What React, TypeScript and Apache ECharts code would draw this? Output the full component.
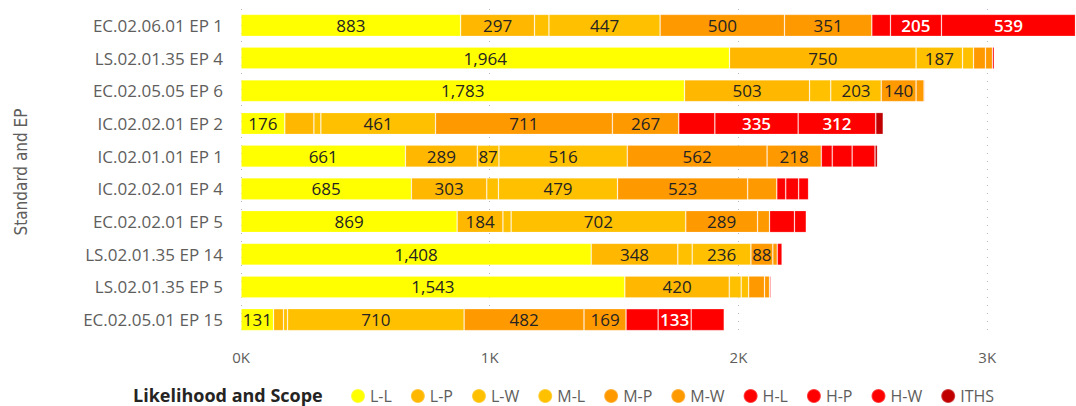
import React, { useEffect, useRef } from "react";
import * as echarts from "echarts";

// Standards / evidence points, top to bottom
const categories = [
  "EC.02.06.01 EP 1",
  "LS.02.01.35 EP 4",
  "EC.02.05.05 EP 6",
  "IC.02.02.01 EP 2",
  "IC.02.01.01 EP 1",
  "IC.02.02.01 EP 4",
  "EC.02.02.01 EP 5",
  "LS.02.01.35 EP 14",
  "LS.02.01.35 EP 5",
  "EC.02.05.01 EP 15",
];

// Likelihood and scope buckets (stack order)
const scopeNames = ["L-L", "L-P", "L-W", "M-L", "M-P", "M-W", "H-L", "H-P", "H-W", "ITHS"];

const valuesLL = [883, 1964, 1783, 176, 661, 685, 869, 1408, 1543, 131];
const valuesLP = [297, 750, 503, 117, 289, 303, 184, 348, 420, 40];
const valuesLW = [58, 187, 85, 28, 87, 47, 33, 58, 48, 16];
const valuesML = [447, 44, 203, 461, 516, 479, 702, 236, 30, 710];
const valuesMP = [500, 48, 140, 711, 562, 523, 289, 88, 64, 482];
const valuesMW = [351, 28, 32, 267, 218, 117, 48, 18, 20, 169];
const valuesHL = [75, 8, 4, 145, 44, 36, 100, 20, 6, 129];
const valuesHP = [205, 0, 0, 335, 80, 52, 48, 0, 0, 133];
const valuesHW = [539, 0, 0, 312, 92, 40, 0, 0, 0, 133];
const valuesITHS = [0, 0, 0, 30, 10, 0, 0, 0, 0, 0];

// Category indices whose segment carries a data label
const labelledLL = [0, 1, 2, 3, 4, 5, 6, 7, 8, 9];
const labelledLP = [0, 1, 2, 4, 5, 6, 7, 8];
const labelledLW = [1, 4];
const labelledML = [0, 2, 3, 4, 5, 6, 7, 9];
const labelledMP = [0, 2, 3, 4, 5, 6, 7, 9];
const labelledMW = [0, 3, 4, 9];
const labelledHL: number[] = [];
const labelledHP = [0, 3, 9];
const labelledHW = [0, 3];
const labelledITHS: number[] = [];

const scopeValues = [valuesLL, valuesLP, valuesLW, valuesML, valuesMP, valuesMW, valuesHL, valuesHP, valuesHW, valuesITHS];
const scopeLabelled = [labelledLL, labelledLP, labelledLW, labelledML, labelledMP, labelledMW, labelledHL, labelledHP, labelledHW, labelledITHS];
const scopeColors = ["#FFFF00", "#FFB700", "#FFC000", "#FFC000", "#FF9900", "#FF9900", "#FF0000", "#FF0000", "#FF0000", "#C00000"];
const lightText = [false, false, false, false, false, false, true, true, true, true];

const FONT = "'Segoe UI', 'Open Sans', sans-serif";

export default function App() {
  const ref = useRef<HTMLDivElement>(null);

  useEffect(() => {
    document.body.style.margin = "0";
    const chart = echarts.init(ref.current!, undefined, { renderer: "svg" });

    const series = scopeNames.map((name, s) => ({
      name,
      type: "bar" as const,
      stack: "total",
      barCategoryGap: "33%",
      itemStyle: {
        color: scopeColors[s],
        borderColor: "rgba(255,255,255,0.25)",
        borderWidth: 0.8,
      },
      label: {
        position: "inside" as const,
        fontFamily: FONT,
        fontSize: 17,
        fontWeight: lightText[s] ? (600 as any) : ("normal" as const),
        color: lightText[s] ? "#FFFFFF" : "#252423",
        formatter: (p: any) => Number(p.value).toLocaleString("en-US"),
      },
      emphasis: { disabled: true },
      data: scopeValues[s].map((v, i) => ({
        value: v,
        label: { show: scopeLabelled[s].includes(i) },
      })),
    }));

    chart.setOption({
      animation: false,
      grid: { left: 241, right: 0, top: 9, height: 327 },
      xAxis: {
        type: "value",
        min: 0,
        max: 3357,
        interval: 1000,
        axisLine: { show: false },
        axisTick: { show: false },
        axisLabel: {
          fontFamily: FONT,
          fontSize: 15,
          color: "#605E5C",
          margin: 13,
          showMaxLabel: false,
          formatter: (v: number) => (v % 1000 === 0 ? `${v / 1000}K` : ""),
        },
        splitLine: {
          show: true,
          showMaxLine: false,
          lineStyle: { type: [1, 7], color: "#BDBDBD", width: 1 },
        },
      },
      yAxis: {
        type: "category",
        data: categories,
        inverse: true,
        axisLine: { show: false },
        axisTick: { show: false },
        axisLabel: {
          fontFamily: FONT,
          fontSize: 17,
          color: "#605E5C",
          margin: 18,
        },
      },
      legend: {
        data: scopeNames,
        left: 345,
        top: 383,
        icon: "circle",
        itemWidth: 14,
        itemHeight: 14,
        itemGap: 18,
        textStyle: { fontFamily: FONT, fontSize: 16, color: "#605E5C" },
      },
      graphic: [
        {
          type: "text",
          x: 133,
          y: 395,
          style: {
            text: "Likelihood and Scope",
            verticalAlign: "middle",
            fontFamily: FONT,
            fontSize: 18,
            fontWeight: "bold",
            fill: "#252423",
          },
        },
        {
          type: "text",
          x: 21,
          y: 172,
          rotation: Math.PI / 2,
          style: {
            text: "Standard and EP",
            align: "center",
            verticalAlign: "middle",
            fontFamily: "'Liberation Sans Narrow', 'DejaVu Sans Condensed', " + FONT,
            fontSize: 17,
            fill: "#605E5C",
          },
        },
      ],
      series,
    });

    return () => chart.dispose();
  }, []);

  return <div ref={ref} style={{ width: 1076, height: 406 }} />;
}
